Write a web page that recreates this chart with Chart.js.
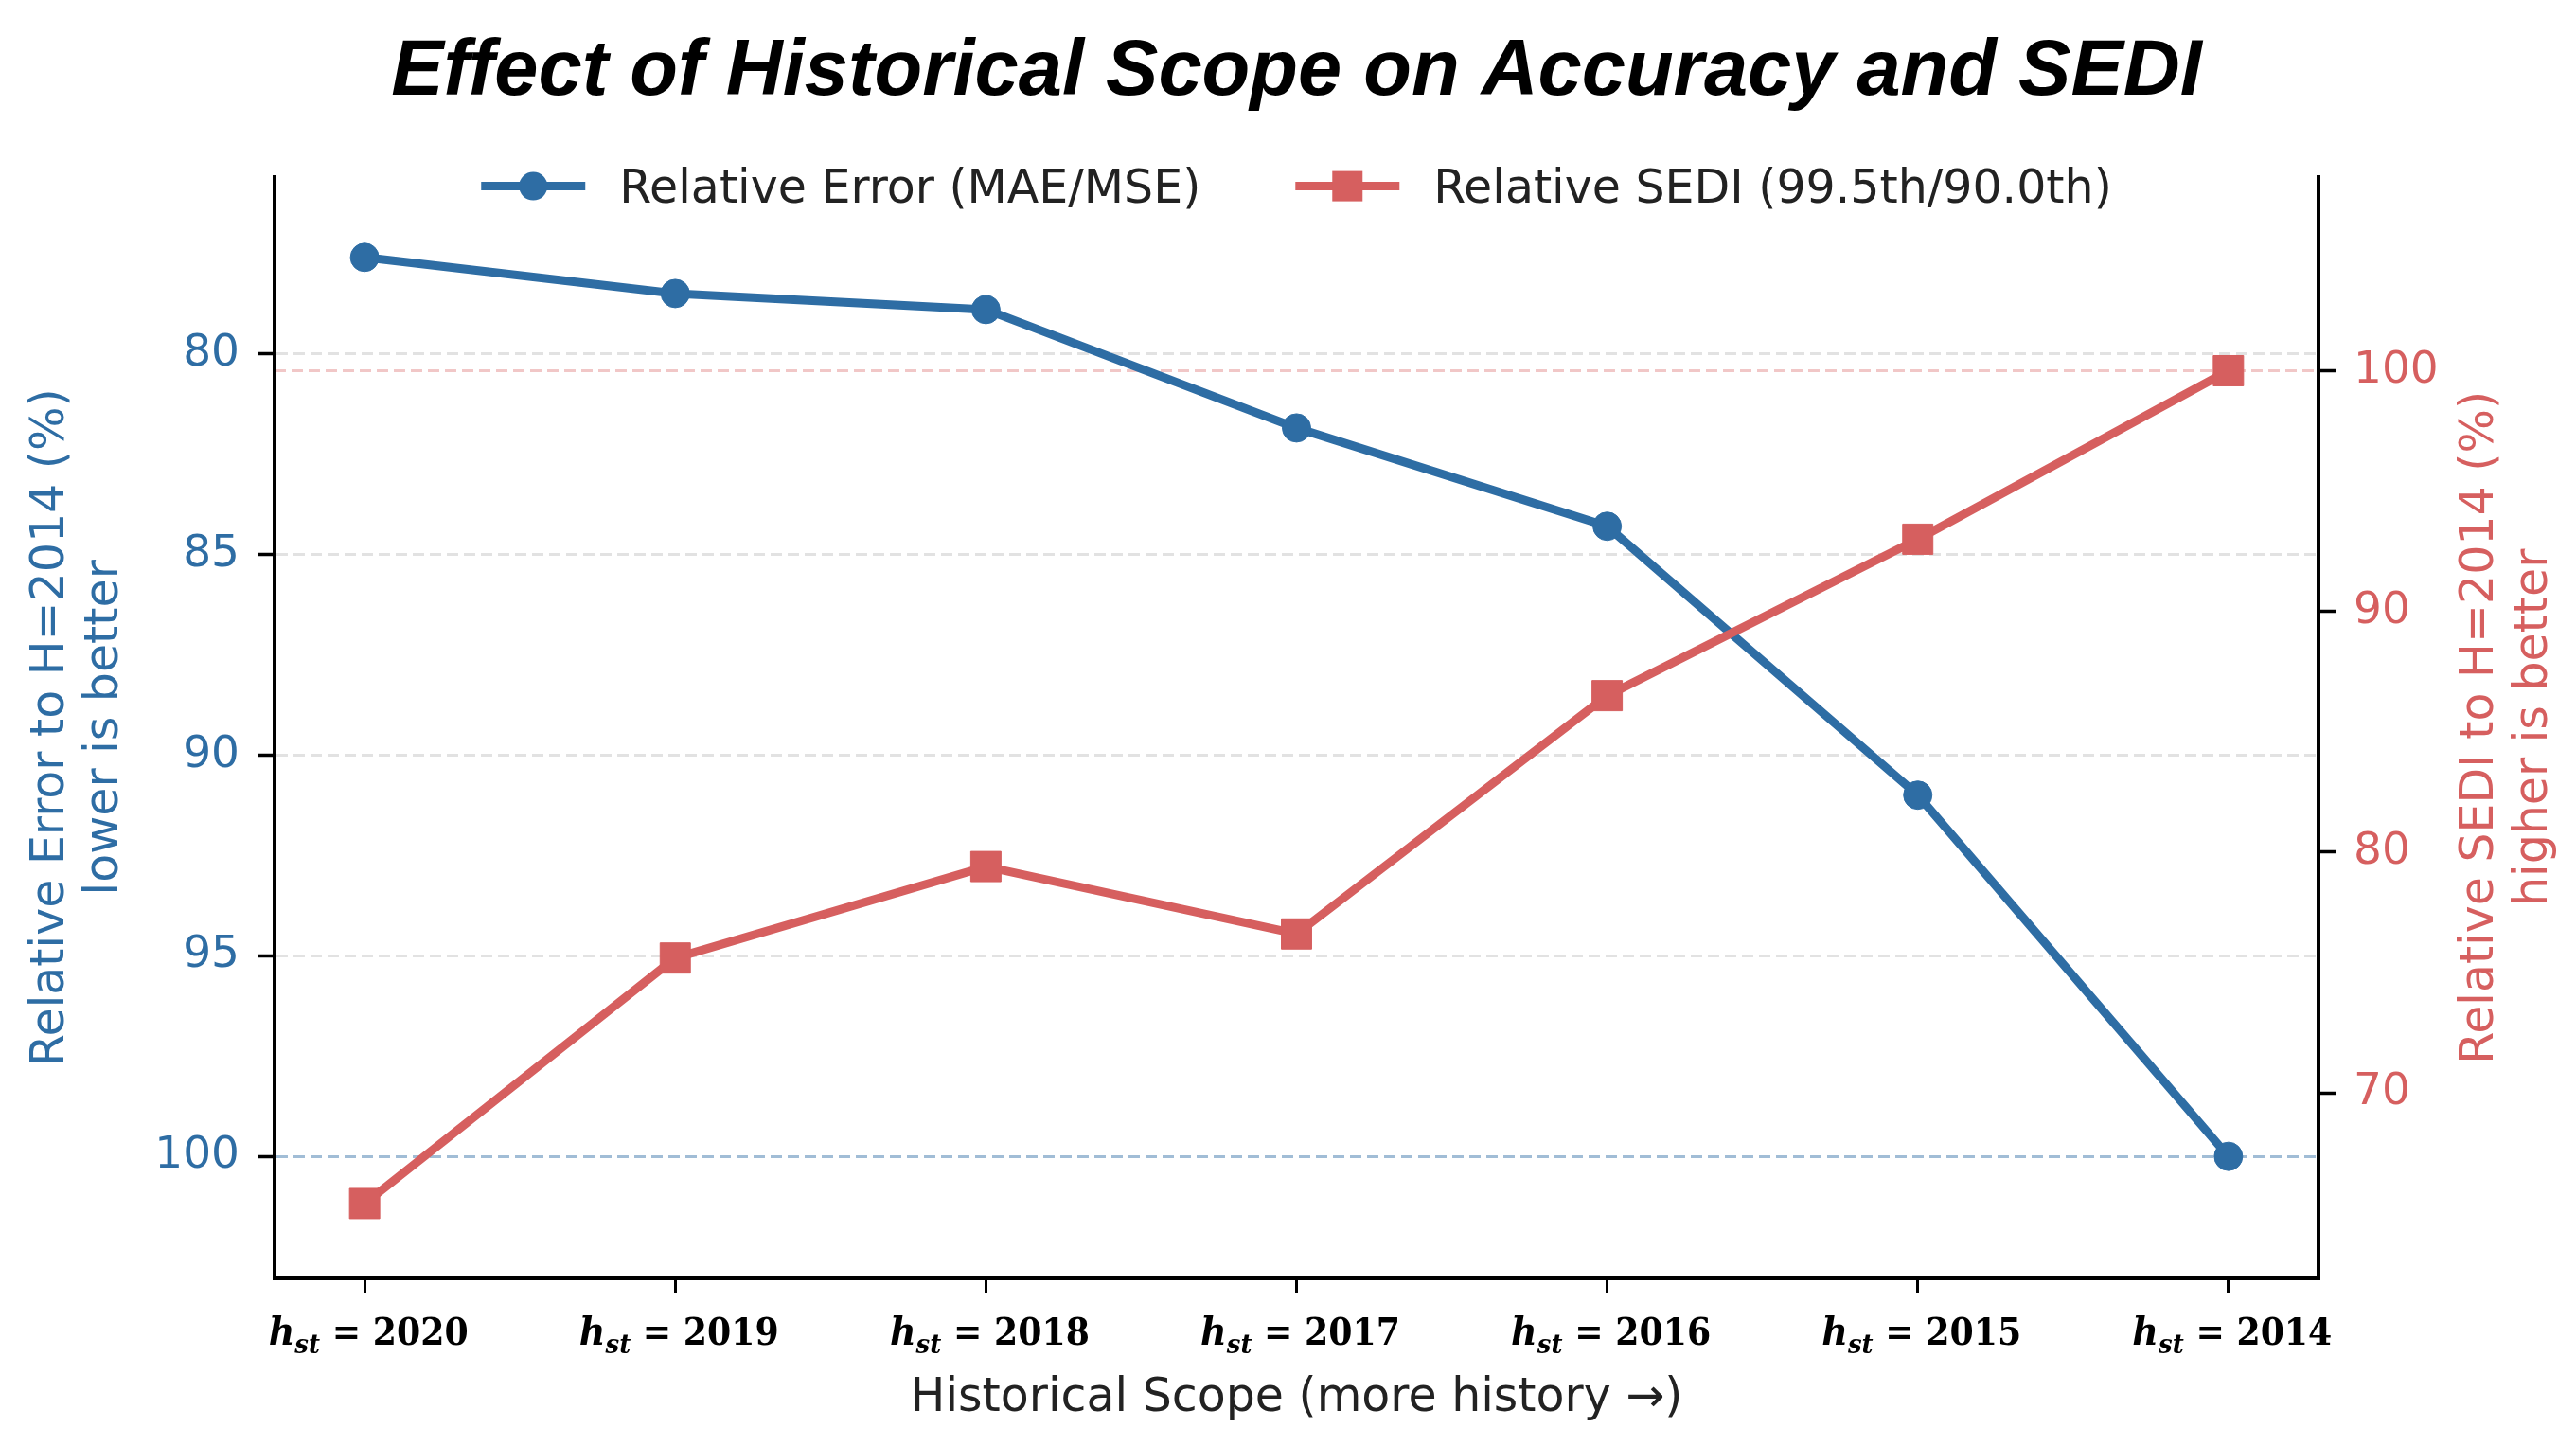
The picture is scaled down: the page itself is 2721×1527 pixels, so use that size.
<!DOCTYPE html>
<html>
<head>
<meta charset="utf-8">
<script src="https://cdn.jsdelivr.net/npm/chart.js@4.4.1/dist/chart.umd.min.js"></script>
<style>
  html, body { margin: 0; padding: 0; background: #fff; }
  #wrap { width: 2721px; height: 1527px; }
</style>
</head>
<body>
<div id="wrap"><canvas id="chart" width="2721" height="1527"></canvas></div>
<script>
// --- DATA ---
const scopeYears = ['2020', '2019', '2018', '2017', '2016', '2015', '2014'];
const relError = [77.6, 78.5, 78.9, 81.85, 84.3, 91.0, 100];   // left axis, reversed
const relSedi = [65.4, 75.6, 79.4, 76.6, 86.5, 93.0, 100];     // right axis
const errorTicks = [80, 85, 90, 95, 100];
const sediTicks = [70, 80, 90, 100];

const seriesLabels = ['Relative Error (MAE/MSE)', 'Relative SEDI (99.5th/90.0th)'];
const leftTitle = ['Relative Error to H=2014 (%)', 'lower is better'];
const rightTitle = ['Relative SEDI to H=2014 (%)', 'higher is better'];

const BLUE = '#2e6da4';
const RED = '#d65f5f';
const SANS = "'DejaVu Sans', sans-serif";
const SERIF = "'DejaVu Serif', serif";

// legend, x tick labels (h_st = year) and y titles drawn on top of the chart
const overlayPlugin = {
    id: 'overlay',
    afterDraw(chart) {
        const { ctx, chartArea, scales } = chart;
        ctx.save();

        // --- legend inside the top of the plot ---
        const items = [
            { label: seriesLabels[0], color: BLUE, style: 'circle' },
            { label: seriesLabels[1], color: RED, style: 'rect' }
        ];
        const handle = 110, gapText = 36, gapItem = 100;
        ctx.font = '49px ' + SANS;
        const widths = items.map(it => ctx.measureText(it.label).width);
        const total = items.length * (handle + gapText) + widths[0] + widths[1] + gapItem;
        let x = (chartArea.left + chartArea.right) / 2 - total / 2;
        const ly = chartArea.top + 10;
        items.forEach((it, i) => {
            ctx.strokeStyle = it.color;
            ctx.fillStyle = it.color;
            ctx.lineWidth = 9;
            ctx.beginPath();
            ctx.moveTo(x, ly);
            ctx.lineTo(x + handle, ly);
            ctx.stroke();
            const mx = x + handle / 2;
            if (it.style === 'circle') {
                ctx.beginPath();
                ctx.arc(mx, ly, 15, 0, Math.PI * 2);
                ctx.fill();
            } else {
                ctx.fillRect(mx - 16, ly - 16, 32, 32);
            }
            ctx.fillStyle = '#222';
            ctx.textAlign = 'left';
            ctx.textBaseline = 'alphabetic';
            ctx.fillText(it.label, x + handle + gapText, ly + 17);
            x += handle + gapText + widths[i] + gapItem;
        });

        // --- x tick labels: h_st = year ---
        const xs = scales.x;
        const by = chartArea.bottom + 70;
        const squeeze = 0.93;
        scopeYears.forEach((yr, i) => {
            const parts = [
                { t: 'h', font: 'italic bold 41px ' + SERIF, dy: 0 },
                { t: 'st', font: 'italic bold 28px ' + SERIF, dy: 9 },
                { t: ' = ' + yr, font: 'bold 39px ' + SERIF, dy: 0 }
            ];
            let w = 0;
            parts.forEach(p => { ctx.font = p.font; p.w = ctx.measureText(p.t).width; w += p.w; });
            ctx.save();
            ctx.translate(xs.getPixelForValue(i) + 4, by);
            ctx.scale(squeeze, 1);
            let px = -w / 2;
            ctx.fillStyle = '#000';
            ctx.textAlign = 'left';
            ctx.textBaseline = 'alphabetic';
            parts.forEach(p => {
                ctx.font = p.font;
                ctx.fillText(p.t, px, p.dy);
                px += p.w;
            });
            ctx.restore();
        });

        // --- rotated y titles (both read bottom to top) ---
        const cy = (chartArea.top + chartArea.bottom) / 2;
        const drawTitle = (lines, xs2, color) => {
            ctx.font = '49px ' + SANS;
            ctx.fillStyle = color;
            ctx.textAlign = 'center';
            ctx.textBaseline = 'alphabetic';
            lines.forEach((t, i) => {
                ctx.save();
                ctx.translate(xs2[i], cy);
                ctx.rotate(-Math.PI / 2);
                ctx.fillText(t, 0, 0);
                ctx.restore();
            });
        };
        drawTitle(leftTitle, [chartArea.left - 223, chartArea.left - 166.5], BLUE);
        drawTitle(rightTitle, [chartArea.right + 184, chartArea.right + 241], RED);

        ctx.restore();
    }
};

const ctx = document.getElementById('chart').getContext('2d');
new Chart(ctx, {
    type: 'line',
    data: {
        datasets: [
            {
                label: seriesLabels[0],
                data: relError.map((v, i) => ({ x: i, y: v })),
                yAxisID: 'yErr',
                borderColor: BLUE,
                backgroundColor: BLUE,
                borderWidth: 9,
                pointStyle: 'circle',
                pointRadius: 15,
                pointBorderWidth: 1,
                pointBackgroundColor: BLUE,
                pointBorderColor: BLUE,
                tension: 0,
                order: 1
            },
            {
                label: seriesLabels[1],
                data: relSedi.map((v, i) => ({ x: i, y: v })),
                yAxisID: 'ySedi',
                borderColor: RED,
                backgroundColor: RED,
                borderWidth: 9,
                pointStyle: 'rect',
                pointRadius: 22.6,
                pointBorderWidth: 1,
                pointBackgroundColor: RED,
                pointBorderColor: RED,
                tension: 0,
                order: 0
            }
        ]
    },
    options: {
        responsive: false,
        animation: false,
        devicePixelRatio: 1,
        layout: { padding: 0 },
        plugins: {
            legend: { display: false },
            tooltip: { enabled: false },
            title: {
                display: true,
                text: 'Effect of Historical Scope on Accuracy and SEDI',
                color: '#000',
                fullSize: false,
                font: { family: "'Liberation Sans', Arial, sans-serif", size: 83, weight: 'bold', style: 'italic' },
                padding: { top: 27, bottom: 60 }
            }
        },
        scales: {
            x: {
                type: 'linear',
                min: -0.29,
                max: 6.29,
                afterBuildTicks: s => { s.ticks = scopeYears.map((_, i) => ({ value: i })); },
                afterFit: s => { s.height = 177; },
                ticks: { display: false },
                grid: { display: true, drawOnChartArea: false, drawTicks: true, tickLength: 15, tickWidth: 3, tickColor: '#000' },
                border: { display: true, color: '#000', width: 4 },
                title: {
                    display: true,
                    text: 'Historical Scope (more history \u2192)',
                    color: '#222',
                    font: { family: SANS, size: 49 },
                    padding: { top: 0, bottom: 20 }
                }
            },
            yErr: {
                position: 'left',
                reverse: true,
                min: 75.59,
                max: 103.04,
                afterBuildTicks: s => { s.ticks = errorTicks.map(v => ({ value: v })); },
                afterFit: s => { s.width = 290; },
                ticks: { color: BLUE, font: { family: SANS, size: 47 }, padding: 19 },
                grid: {
                    color: c => c.tick && c.tick.value === 100 ? 'rgba(46,109,164,0.45)' : 'rgba(160,160,160,0.3)',
                    lineWidth: 3,
                    tickLength: 18,
                    tickWidth: 3.5,
                    tickColor: '#000'
                },
                border: { display: true, color: '#000', width: 4, dash: [12, 6] }
            },
            ySedi: {
                position: 'right',
                min: 62.29,
                max: 108.06,
                afterBuildTicks: s => { s.ticks = sediTicks.map(v => ({ value: v })); },
                afterFit: s => { s.width = 272; },
                ticks: { color: RED, font: { family: SANS, size: 47 }, padding: 19 },
                grid: {
                    color: c => c.tick && c.tick.value === 100 ? 'rgba(214,95,95,0.35)' : 'rgba(0,0,0,0)',
                    lineWidth: 3,
                    tickLength: 18,
                    tickWidth: 3.5,
                    tickColor: '#000'
                },
                border: { display: true, color: '#000', width: 4, dash: [12, 6] }
            }
        }
    },
    plugins: [overlayPlugin]
});
</script>
</body>
</html>
